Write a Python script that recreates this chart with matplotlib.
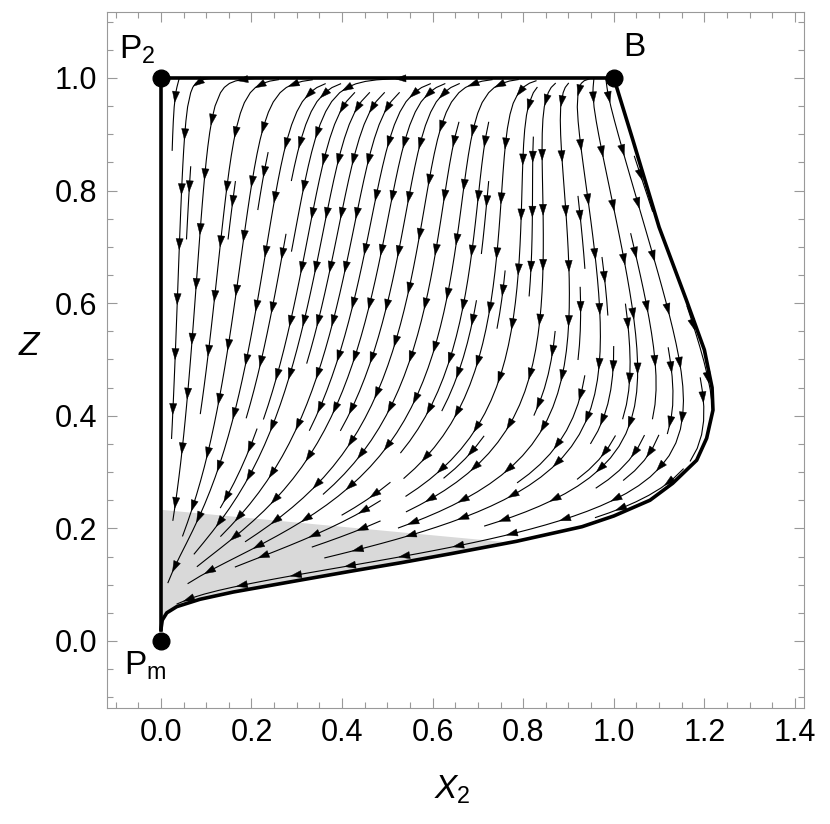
import numpy as np
import matplotlib.pyplot as plt
from matplotlib.path import Path
from matplotlib.ticker import MultipleLocator, FormatStrFormatter

plt.rcParams['font.family'] = ['Liberation Sans', 'DejaVu Sans']
plt.rcParams['mathtext.fontset'] = 'custom'
plt.rcParams['mathtext.rm'] = 'Liberation Sans'
plt.rcParams['mathtext.it'] = 'Liberation Sans:italic'

# outer trajectory from B back to Pm
bound_x = [1.0, 1.042, 1.10, 1.16, 1.20, 1.217, 1.219, 1.205, 1.183, 1.13, 1.08,
           1.0, 0.93, 0.785, 0.64, 0.53, 0.42, 0.307, 0.16, 0.086, 0.035, 0.013,
           0.003, 0.0]
bound_z = [1.0, 0.89, 0.735, 0.606, 0.517, 0.45, 0.41, 0.36, 0.321, 0.28, 0.25,
           0.222, 0.203, 0.177, 0.155, 0.139, 0.124, 0.108, 0.087, 0.074, 0.061,
           0.05, 0.037, 0.02]

# shaded band: upper edge of the grey area
shade_x = [0.0, 0.755]
shade_z = [0.233, 0.176]

# equilibria
pts_x = [0.0, 1.0, 0.0]
pts_z = [1.0, 1.0, 0.0]
pts_lab = [r'$\mathrm{P}_2$', 'B', r'$\mathrm{P}_\mathrm{m}$']

# vector field parameters
a0, a1 = 0.15, 0.5
b = 0.38
g1, s1 = 3.65, 0.12
g2, s2 = 6.7, 0.05


def field(x, z):
    A = a0 + a1 * (1 - z)
    E = b * (1 - z) * z**2 - g1 * np.exp(-z / s1) - g2 * np.exp(-z / s2)
    return x * ((x - 1) * A + E), -z * (1 - z)


fig = plt.figure(figsize=(8.3, 8.24), dpi=100)
ax = fig.add_axes([107 / 830, 1 - 708 / 824, 697 / 830, 696 / 824])
ax.set_xlim(-0.119, 1.42)
ax.set_ylim(-0.119, 1.117)

# region where the streamlines live
region = Path(np.vstack([[[0.0, 1.0]], np.column_stack([bound_x, bound_z]), [[0.0, 0.0]]]))

gx = np.linspace(0.0, 1.25, 250)
gz = np.linspace(0.0, 1.0, 200)
X, Z = np.meshgrid(gx, gz)
U, V = field(X, Z)
inside = region.contains_points(np.column_stack([X.ravel(), Z.ravel()]), radius=-0.004).reshape(X.shape)
inside &= X > 0.006
U = np.ma.array(U, mask=~inside)
V = np.ma.array(V, mask=~inside)

# grey shading
sx = shade_x + [x for x in bound_x if x < shade_x[1]]
sz = shade_z + [z for x, z in zip(bound_x, bound_z) if x < shade_x[1]]
ax.fill(sx, sz, color='#d9d9d9', lw=0, zorder=1)

# streamline layout from a scratch axes, redrawn below with Mathematica-like arrows
fig2, ax2 = plt.subplots()
sp = ax2.streamplot(X, Z, U, V, density=1.3, linewidth=0.8)
lines = [np.asarray(sg) for sg in sp.lines.get_segments() if len(sg) > 1]
plt.close(fig2)

px_x, px_z = 453.0, 563.0
gap, head_l, head_w = 55.0, 11.0, 3.6
heads = []
for ln in lines:
    ax.plot(ln[:, 0], ln[:, 1], color='black', lw=0.8, zorder=2)
    d = np.hypot(np.diff(ln[:, 0]) * px_x, np.diff(ln[:, 1]) * px_z)
    cum = np.concatenate([[0], np.cumsum(d)])
    if cum[-1] < 18:
        continue
    start = cum[-1] / 2 if cum[-1] < gap else 25.0
    for m in np.arange(start, cum[-1] - 6, gap):
        tx = np.interp(m, cum, ln[:, 0]) * px_x
        tz = np.interp(m, cum, ln[:, 1]) * px_z
        bx = np.interp(m - head_l, cum, ln[:, 0]) * px_x
        bz = np.interp(m - head_l, cum, ln[:, 1]) * px_z
        dx, dz = tx - bx, tz - bz
        L = np.hypot(dx, dz)
        if L == 0:
            continue
        ux, uz = dx / L, dz / L
        tip = (bx + ux * head_l, bz + uz * head_l)
        l1 = (bx - uz * head_w, bz + ux * head_w)
        l2 = (bx + uz * head_w, bz - ux * head_w)
        heads.append([(tip[0] / px_x, tip[1] / px_z), (l1[0] / px_x, l1[1] / px_z),
                      (l2[0] / px_x, l2[1] / px_z)])
for hd in heads:
    ax.fill([q[0] for q in hd], [q[1] for q in hd], color='black', lw=0.3, zorder=2)

# frame of the region
ax.plot(bound_x, bound_z, color='black', lw=2.6, zorder=3, solid_capstyle='round')
ax.plot([0, 0, 1], [0.02, 1, 1], color='black', lw=2.6, zorder=3)
ax.plot(pts_x, pts_z, 'o', color='black', ms=12, zorder=4)

ax.annotate(pts_lab[0], (0, 1), xytext=(-17, 20), textcoords='offset points',
            ha='center', va='center', fontsize=24)
ax.annotate(pts_lab[1], (1, 1), xytext=(15, 22), textcoords='offset points',
            ha='center', va='center', fontsize=24)
ax.annotate(pts_lab[2], (0, 0), xytext=(-11, -18), textcoords='offset points',
            ha='center', va='center', fontsize=24)

ax.xaxis.set_major_locator(MultipleLocator(0.2))
ax.xaxis.set_minor_locator(MultipleLocator(0.05))
ax.yaxis.set_major_locator(MultipleLocator(0.2))
ax.yaxis.set_minor_locator(MultipleLocator(0.05))
ax.xaxis.set_major_formatter(FormatStrFormatter('%.1f'))
ax.yaxis.set_major_formatter(FormatStrFormatter('%.1f'))
ax.tick_params(which='both', direction='in', top=True, right=True, color='#999999', width=0.8)
ax.tick_params(which='major', length=7, labelsize=22)
ax.tick_params(which='minor', length=4)
ax.tick_params(axis='x', pad=7)
ax.tick_params(axis='y', pad=7)
for spn in ax.spines.values():
    spn.set_color('#999999')

ax.set_xlabel(r'$\mathit{X}_2$', fontsize=24, va='center')
ax.set_ylabel(r'$\mathit{Z}$', fontsize=24, rotation=0, va='center', ha='center')
ax.xaxis.set_label_coords(0.495, -0.118)
ax.yaxis.set_label_coords(-0.110, 0.52)

fig.savefig('out.png', dpi=100)
